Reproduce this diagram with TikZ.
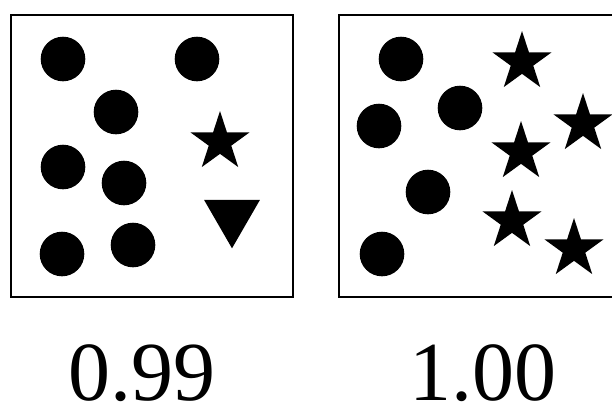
\documentclass[tikz,border=0pt]{standalone}
\usepackage{fontspec}
\setmainfont{Liberation Serif}
\usetikzlibrary{shapes.geometric}

\begin{document}
\begin{tikzpicture}[x=1pt, y=-1pt,
    dot/.style={circle, fill=black, inner sep=0pt, minimum size=44.6pt},
    starmark/.style={star, star points=5, star point ratio=2.618, fill=black, inner sep=0pt, minimum size=62pt},
    trimark/.style={regular polygon, regular polygon sides=3, shape border rotate=180, fill=black, inner sep=0pt, minimum size=64.6pt},
    score/.style={font=\fontsize{84}{84}\selectfont, inner sep=0pt, anchor=base}]
    % Page frame (right panel runs off the edge)
    \clip (0,0) rectangle (612,405);

    % Left panel
    \draw[line width=1.3pt] (11,15) rectangle (293,297);
    \foreach \name/\x/\y in {la/63/59, lb/197/59, lc/116/112, ld/63/167, le/124/183, lf/62/254, lg/133/245}
        \node[dot] (\name) at (\x,\y) {};
    \node[starmark] (lstar) at (220,142) {};
    \node[trimark] (ltri) at (232,216) {};

    % Right panel
    \draw[line width=1.3pt] (339,15) rectangle (620,297);
    \foreach \name/\x/\y in {ra/401/59, rb/379/126, rc/460/108, rd/428/192, re/382/254}
        \node[dot] (\name) at (\x,\y) {};
    \foreach \name/\x/\y in {sa/522/62, sb/583/124, sc/521/152, sd/512/221, se/574/249}
        \node[starmark] (\name) at (\x,\y) {};

    % Scores under the panels
    \node[score] (lscore) at (142,400) {0.99};
    \node[score] (rscore) at (483,400) {1.00};
\end{tikzpicture}
\end{document}
